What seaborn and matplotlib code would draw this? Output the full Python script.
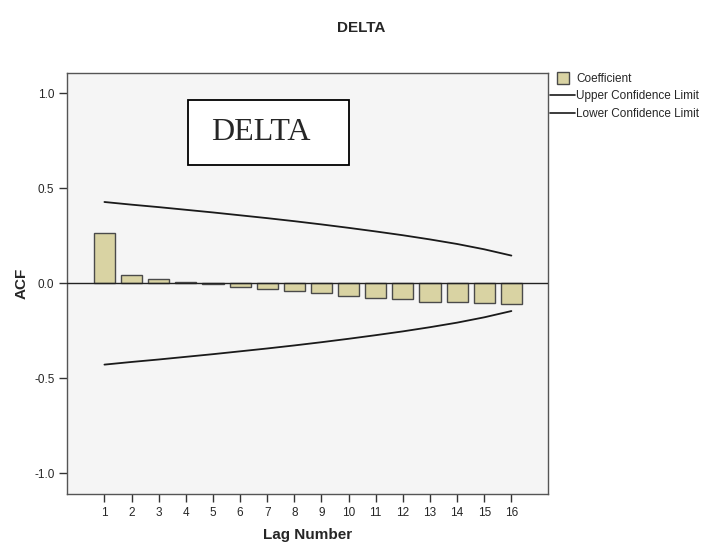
import matplotlib
matplotlib.use("Agg")
import matplotlib.pyplot as plt
import seaborn as sns
import pandas as pd
from matplotlib.patches import Rectangle
from matplotlib.lines import Line2D

lags = list(range(1, 17))
coefficient = [0.263, 0.044, 0.025, 0.007, -0.003, -0.018, -0.030, -0.040,
               -0.050, -0.066, -0.075, -0.085, -0.096, -0.101, -0.105, -0.108]
upper_cl = [0.428, 0.414, 0.401, 0.387, 0.373, 0.358, 0.343, 0.327,
            0.310, 0.292, 0.273, 0.253, 0.231, 0.207, 0.179, 0.146]
lower_cl = [-v for v in upper_cl]
ytick_vals = [-1.0, -0.5, 0.0, 0.5, 1.0]
ytick_labels = ["-1.0", "-0.5", "0.0", "0.5", "1.0"]

sns.set_theme(style="white")
plt.rcParams['font.family'] = ['Liberation Sans', 'DejaVu Sans']

df = pd.DataFrame({"lag": lags, "acf": coefficient, "ucl": upper_cl, "lcl": lower_cl})

fig = plt.figure(figsize=(7.18, 5.49), dpi=100)
ax = fig.add_axes([67/718, 1-494/549, (548-67)/718, (494-73)/549])
ax.set_facecolor("#f5f5f5")

sns.barplot(data=df, x="lag", y="acf", native_scale=True, width=0.78,
            color="#d9d3a3", saturation=1, edgecolor="#4a4a4a", linewidth=1.0, ax=ax)
sns.lineplot(data=df, x="lag", y="ucl", color="#1a1a1a", linewidth=1.3, ax=ax)
sns.lineplot(data=df, x="lag", y="lcl", color="#1a1a1a", linewidth=1.3, ax=ax)
ax.axhline(0, color="#222222", linewidth=1.0, zorder=3)

ax.set_xlim(-0.38, 17.35)
ax.set_ylim(-1.109, 1.107)
ax.set_xticks(lags)
ax.set_xticklabels([str(l) for l in lags], fontsize=8.5)
ax.set_yticks(ytick_vals)
ax.set_yticklabels(ytick_labels, fontsize=8.5)
ax.tick_params(axis="both", direction="out", length=6, width=1, color="#333333",
               left=True, bottom=True, pad=3)
for s in ax.spines.values():
    s.set_color("#555555")
    s.set_linewidth(1.0)
    s.set_visible(True)

ax.set_xlabel("Lag Number", fontsize=11, fontweight="bold", labelpad=7)
ax.set_ylabel("ACF", fontsize=11, fontweight="bold", labelpad=4)

fig.text(0.5035, 1-28/549, "DELTA", ha="center", va="center", fontsize=11, fontweight="bold")

# Annotation box
fig.patches.append(Rectangle((188/718, 1-165/549), (349-188)/718, (165-100)/549,
                             transform=fig.transFigure, facecolor="white",
                             edgecolor="black", linewidth=1.3, zorder=5))
fig.text(261/718, 1-133/549, "DELTA", ha="center", va="center", fontsize=23,
         family=["Liberation Serif", "DejaVu Serif"], zorder=6)

handles = [Line2D([], [], linestyle="none", marker="s", markersize=9,
                  markerfacecolor="#d9d3a3", markeredgecolor="#4a4a4a",
                  markeredgewidth=1.0, label="Coefficient"),
           Line2D([], [], color="#1a1a1a", linewidth=1.2, label="Upper Confidence Limit"),
           Line2D([], [], color="#1a1a1a", linewidth=1.2, label="Lower Confidence Limit")]
fig.legend(handles=handles, loc="upper left", bbox_to_anchor=(549/718, 1-72/549),
           frameon=False, fontsize=8.5, handlelength=2.1, handletextpad=0.1,
           labelspacing=0.45, borderaxespad=0, borderpad=0.1)

fig.savefig("out.png", dpi=100)
